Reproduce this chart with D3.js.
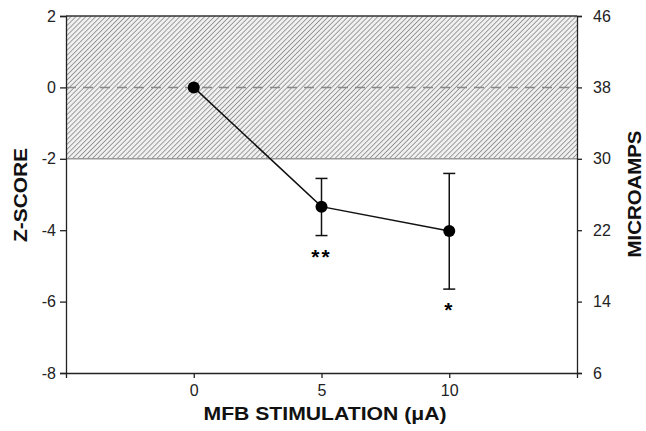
<!DOCTYPE html>
<html lang="en">
<head>
    <meta charset="UTF-8">
    <title>MFB stimulation</title>
    <style>
        body { margin: 0; background: white; }
        svg { font-family: "Liberation Sans", Arial, sans-serif; }
        .axis text { font-size: 16px; fill: #222; }
        .axis path, .axis line { stroke: #222; stroke-width: 1.3; }
        .label { font-size: 19px; font-weight: bold; fill: #111; }
    </style>
</head>
<body>
    <svg width="646" height="431" id="chart"></svg>

    <script src="https://d3js.org/d3.v7.min.js"></script>
    <script>
        // data
        const doses = [0, 5, 10];
        const zScores = [0, -3.34, -4.02];
        const errUpper = [0, -2.55, -2.41];
        const errLower = [0, -4.15, -5.65];
        const stars = ["", "**", "*"];
        const zTicks = [2, 0, -2, -4, -6, -8];
        const ampTicks = [46, 38, 30, 22, 14, 6];
        const xTicks = [0, 5, 10];
        const band = [2, -2];

        const svg = d3.select("#chart");
        const margin = { left: 66, right: 69, top: 16, bottom: 58 };
        const w = 646 - margin.left - margin.right;
        const h = 431 - margin.top - margin.bottom;

        const x = d3.scaleLinear().domain([-5, 15]).range([0, w]);
        const y = d3.scaleLinear().domain([-8, 2]).range([h, 0]);
        const yAmp = d3.scaleLinear().domain([6, 46]).range([h, 0]);

        // hatch pattern
        const defs = svg.append("defs");
        const pat = defs.append("pattern")
            .attr("id", "hatch")
            .attr("patternUnits", "userSpaceOnUse")
            .attr("width", 3.5).attr("height", 3.5)
            .attr("patternTransform", "rotate(45)");
        pat.append("rect").attr("width", 3.5).attr("height", 3.5).attr("fill", "#f0f0f0");
        pat.append("line")
            .attr("x1", 0).attr("y1", 0).attr("x2", 0).attr("y2", 3.5)
            .attr("stroke", "#7a7a7a").attr("stroke-width", 1.4);

        const g = svg.append("g").attr("transform", `translate(${margin.left},${margin.top})`);

        g.append("rect")
            .attr("x", 0).attr("y", y(band[0]))
            .attr("width", w).attr("height", y(band[1]) - y(band[0]))
            .attr("fill", "url(#hatch)");
        g.append("line")
            .attr("x1", 0).attr("x2", w).attr("y1", y(band[1])).attr("y2", y(band[1]))
            .attr("stroke", "#999").attr("stroke-width", 1.5);
        g.append("line")
            .attr("x1", 0).attr("x2", w).attr("y1", y(band[0])).attr("y2", y(band[0]))
            .attr("stroke", "#333").attr("stroke-width", 1.5);

        // dashed zero line
        g.append("line")
            .attr("x1", 0).attr("x2", w).attr("y1", y(0)).attr("y2", y(0))
            .attr("stroke", "#888").attr("stroke-width", 1.5)
            .attr("stroke-dasharray", "10,7");

        // axes
        g.append("g").attr("class", "axis")
            .call(d3.axisLeft(y).tickValues(zTicks).tickSize(6).tickPadding(4).tickFormat(d => String(d)));
        g.append("g").attr("class", "axis")
            .attr("transform", `translate(${w},0)`)
            .call(d3.axisRight(yAmp).tickValues(ampTicks).tickSize(5).tickPadding(11));
        g.append("g").attr("class", "axis")
            .attr("transform", `translate(0,${h})`)
            .call(d3.axisBottom(x).tickValues(xTicks).tickSize(5).tickPadding(7));
        g.selectAll(".axis .domain").attr("stroke-width", 1.5);

        // error bars
        const pts = doses.map((d, i) => ({ x: d, z: zScores[i], hi: errUpper[i], lo: errLower[i], s: stars[i] }));
        const eb = g.selectAll(".err").data(pts.filter(d => d.hi !== d.lo)).enter().append("g");
        eb.append("line")
            .attr("x1", d => x(d.x)).attr("x2", d => x(d.x))
            .attr("y1", d => y(d.hi)).attr("y2", d => y(d.lo))
            .attr("stroke", "#111").attr("stroke-width", 1.5);
        eb.selectAll(".cap").data(d => [[d.x, d.hi], [d.x, d.lo]]).enter().append("line")
            .attr("x1", d => x(d[0]) - 6).attr("x2", d => x(d[0]) + 6)
            .attr("y1", d => y(d[1])).attr("y2", d => y(d[1]))
            .attr("stroke", "#111").attr("stroke-width", 1.5);

        // line + markers
        g.append("path")
            .datum(pts)
            .attr("d", d3.line().x(d => x(d.x)).y(d => y(d.z)))
            .attr("fill", "none").attr("stroke", "#111").attr("stroke-width", 1.5);
        g.selectAll(".pt").data(pts).enter().append("circle")
            .attr("cx", d => x(d.x)).attr("cy", d => y(d.z)).attr("r", 6)
            .attr("fill", "#000");

        // significance stars
        g.selectAll(".star").data(pts).enter().append("text")
            .attr("x", d => x(d.x)).attr("y", d => y(d.lo) + 28)
            .attr("text-anchor", "middle")
            .attr("font-size", 21).attr("font-weight", "bold")
            .attr("letter-spacing", 2)
            .text(d => d.s);

        // axis labels
        svg.append("text").attr("class", "label")
            .attr("transform", `translate(27,195) rotate(-90)`)
            .attr("text-anchor", "middle")
            .attr("textLength", 94).attr("lengthAdjust", "spacingAndGlyphs")
            .text("Z-SCORE");
        svg.append("text").attr("class", "label")
            .attr("transform", `translate(641,194) rotate(-90)`)
            .attr("text-anchor", "middle")
            .attr("textLength", 127).attr("lengthAdjust", "spacingAndGlyphs")
            .text("MICROAMPS");
        svg.append("text").attr("class", "label")
            .attr("x", 325).attr("y", 420)
            .attr("text-anchor", "middle")
            .attr("textLength", 243).attr("lengthAdjust", "spacingAndGlyphs")
            .text("MFB STIMULATION (\u03bcA)");
    </script>
</body>
</html>
